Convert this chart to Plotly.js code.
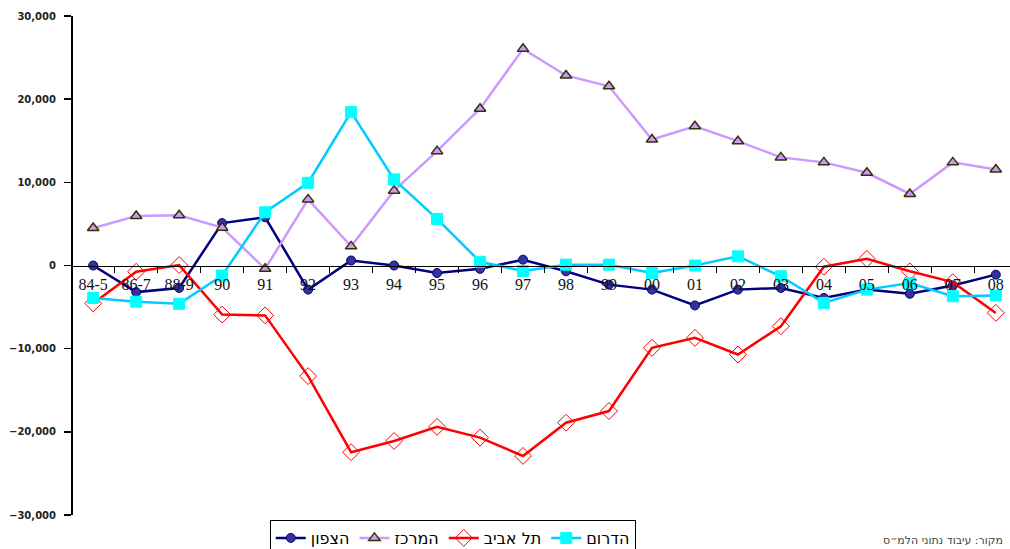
<!DOCTYPE html>
<html>
<head>
<meta charset="utf-8">
<script src="https://cdn.plot.ly/plotly-3.0.1.min.js"></script>
<style>
html,body{margin:0;padding:0;background:#fff;}
#chart{width:1010px;height:549px;}
</style>
</head>
<body>
<div id="chart"></div>
<script>
const categories = ["84-5","86-7","88-9","90","91","92","93","94","95","96","97","98","99","00","01","02","03","04","05","06","07","08"];
const seriesNames = ["הצפון","המרכז","תל אביב","הדרום"];
const north  = [0,-3200,-2700,5100,5800,-2900,600,0,-900,-400,700,-700,-2300,-2900,-4800,-2900,-2700,-3900,-2900,-3400,-2400,-1100];
const center = [4500,5950,6050,4550,-400,7950,2300,9000,13750,18850,26050,22850,21550,15150,16750,14950,13000,12400,11150,8600,12400,11550];
const telAviv = [-4550,-750,50,-5900,-6000,-13300,-22450,-21100,-19400,-20700,-22900,-18900,-17500,-9900,-8700,-10700,-7300,-150,800,-700,-2000,-5700];
const south  = [-3900,-4350,-4600,-1200,6400,9950,18450,10350,5600,450,-650,100,100,-900,0,1100,-1300,-4500,-2900,-2100,-3700,-3600];
const yTickVals = [-30000,-20000,-10000,0,10000,20000,30000];
const sourceText = "מקור: עיבוד נתוני הלמ״ס";

const traces = [
  {x: categories, y: north, name: seriesNames[0], type: 'scatter', mode: 'lines+markers',
   line: {color: '#000080', width: 2.5},
   marker: {symbol: 'circle', size: 9, color: '#333399', line: {color: '#000080', width: 1}}},
  {x: categories, y: center, name: seriesNames[1], type: 'scatter', mode: 'lines+markers',
   line: {color: '#CC99FF', width: 2.5},
   marker: {symbol: 'triangle-up', size: 10, color: '#CC99FF', line: {color: '#333300', width: 1.5}}},
  {x: categories, y: telAviv, name: seriesNames[2], type: 'scatter', mode: 'lines+markers',
   line: {color: '#FF0000', width: 2.5},
   marker: {symbol: 'diamond-open', size: 13, color: '#FF0000', line: {color: '#FF0000', width: 1}}},
  {x: categories, y: south, name: seriesNames[3], type: 'scatter', mode: 'lines+markers',
   line: {color: '#00CCFF', width: 2.5},
   marker: {symbol: 'square', size: 11, color: '#00FFFF', line: {color: '#00FFFF', width: 1}}}
];

const layout = {
  width: 1010, height: 549,
  margin: {l: 73, r: 0, t: 16, b: 34, autoexpand: false},
  paper_bgcolor: '#fff', plot_bgcolor: '#fff',
  showlegend: true,
  xaxis: {
    type: 'category', categoryorder: 'array', categoryarray: categories,
    range: [-0.47, 21.33],
    anchor: 'free', position: 0.5,
    showline: true, linecolor: '#000', linewidth: 1.5,
    ticks: 'outside', tickson: 'boundaries', ticklen: 6, tickcolor: '#000', tickwidth: 1,
    ticklabelstandoff: 4,
    showgrid: false, zeroline: false,
    tickfont: {family: 'Liberation Serif, serif', size: 16, color: '#111'}
  },
  yaxis: {
    range: [-30000, 30000],
    tickvals: yTickVals, tickformat: ',d',
    showline: true, linecolor: '#000', linewidth: 2,
    ticks: 'outside', ticklen: 7, tickcolor: '#000', tickwidth: 1.5,
    ticklabelstandoff: 6,
    showgrid: false, zeroline: false,
    tickfont: {family: 'DejaVu Sans, sans-serif', size: 10, color: '#222', weight: 'bold'}
  },
  legend: {
    orientation: 'h', x: 0.21, xanchor: 'left', y: -0.01, yanchor: 'top',
    bordercolor: '#000', borderwidth: 1, bgcolor: '#fff',
    font: {family: 'DejaVu Sans, sans-serif', size: 16, color: '#000'},
    itemwidth: 30
  },
  annotations: [{
    xref: 'paper', yref: 'paper', x: 0.995, y: -0.052, xanchor: 'right', yanchor: 'middle',
    text: sourceText, showarrow: false,
    font: {family: 'DejaVu Sans, sans-serif', size: 11, color: '#444'}
  }]
};

Plotly.newPlot('chart', traces, layout, {displayModeBar: false, staticPlot: true});
</script>
</body>
</html>
